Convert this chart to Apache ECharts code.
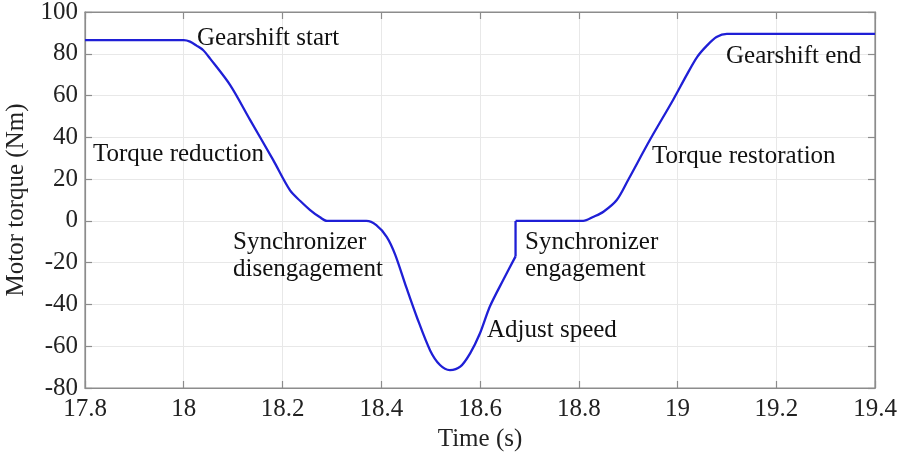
<!DOCTYPE html>
<html><head><meta charset="utf-8">
<script src="https://cdn.jsdelivr.net/npm/echarts@6/dist/echarts.min.js"></script>
<style>html,body{margin:0;padding:0;background:#fff}#c{width:900px;height:456px}</style>
</head><body><div id="c"></div>
<script>
var timeS = [17.8, 18.0, 18.0127, 18.026, 18.039, 18.053, 18.094, 18.134, 18.181, 18.215, 18.236, 18.256, 18.276, 18.29, 18.37, 18.39, 18.411, 18.428, 18.451, 18.472, 18.499, 18.519, 18.539, 18.56, 18.58, 18.6, 18.62, 18.647, 18.672, 18.672, 18.809, 18.83, 18.85, 18.877, 18.9, 18.944, 18.991, 19.019, 19.04, 19.06, 19.079, 19.1, 19.4];
var torqueNm = [86.5, 86.5, 85.8, 83.9, 81.8, 77.8, 65, 48.5, 29.2, 14.7, 9.5, 5.2, 1.7, 0, 0, -2, -7.6, -16, -32, -46, -62, -69, -71.4, -69.8, -63.4, -53.8, -41, -28.3, -17, 0, 0, 2, 4.4, 10, 19.6, 38.7, 57.9, 70, 78.5, 84, 88, 89.5, 89.5];
var xTicks = [17.8, 18, 18.2, 18.4, 18.6, 18.8, 19, 19.2, 19.4];
var yTicks = [-80, -60, -40, -20, 0, 20, 40, 60, 80, 100];
var annotations = [
  {text: 'Gearshift start', left: 197, top: 26},
  {text: 'Torque reduction', left: 93, top: 142},
  {text: 'Synchronizer', left: 233, top: 230},
  {text: 'disengagement', left: 233, top: 257},
  {text: 'Adjust speed', left: 487, top: 318},
  {text: 'Synchronizer', left: 525, top: 230},
  {text: 'engagement', left: 525, top: 257},
  {text: 'Torque restoration', left: 652, top: 144},
  {text: 'Gearshift end', left: 726, top: 44}
];
var FONT = '"Liberation Serif", "DejaVu Serif", serif';
var FS = 25;
var chart = echarts.init(document.getElementById('c'), null, {renderer: 'canvas'});
var pts = timeS.map(function (t, i) { return [t, torqueNm[i]]; });
// find the synchronizer-engagement step (repeated time value)
var j = 0;
for (var i = 1; i < timeS.length; i++) { if (timeS[i] === timeS[i - 1]) { j = i - 1; break; } }
var lineStyle = {color: '#1f1fd6', width: 2.3};
var axisLineStyle = {color: '#8c8c8c', width: 1.2};
var gridLine = {show: true, lineStyle: {color: '#e8e8e8', width: 1}};
function seg(data, smooth) {
  return {type: 'line', data: data, showSymbol: false, smooth: smooth,
    lineStyle: lineStyle, z: 5, silent: true};
}
chart.setOption({
  animation: false,
  backgroundColor: '#fff',
  grid: {left: 85, right: 25, top: 12, bottom: 68, containLabel: false, outerBoundsMode: 'none',
    show: true, borderColor: '#8c8c8c', borderWidth: 1.2},
  xAxis: [{
    type: 'value', min: 17.8, max: 19.4, interval: 0.2,
    name: 'Time (s)', nameLocation: 'middle', nameGap: 38,
    nameTextStyle: {fontFamily: FONT, fontSize: FS, color: '#222'},
    axisLine: {show: true, onZero: false, lineStyle: axisLineStyle},
    axisTick: {show: true, inside: true, length: 7, lineStyle: axisLineStyle},
    splitLine: gridLine,
    axisLabel: {fontFamily: FONT, fontSize: FS, color: '#222', margin: 9,
      formatter: function (v) { var r = Math.round(v * 10) / 10; return xTicks.indexOf(r) >= 0 ? String(r) : ''; }}
  }, {
    type: 'value', min: 17.8, max: 19.4, interval: 0.2, position: 'top',
    axisLine: {show: true, onZero: false, lineStyle: axisLineStyle},
    axisTick: {show: true, inside: true, length: 7, lineStyle: axisLineStyle},
    axisLabel: {show: false}, splitLine: {show: false}
  }],
  yAxis: [{
    type: 'value', min: -80, max: 100, interval: 20,
    name: 'Motor torque (Nm)', nameLocation: 'middle', nameGap: 56,
    nameTextStyle: {fontFamily: FONT, fontSize: FS, color: '#222'},
    axisLine: {show: true, onZero: false, lineStyle: axisLineStyle},
    axisTick: {show: true, inside: true, length: 7, lineStyle: axisLineStyle},
    splitLine: gridLine,
    axisLabel: {fontFamily: FONT, fontSize: FS, color: '#222', margin: 7,
      formatter: function (v) { return yTicks.indexOf(v) >= 0 ? String(v) : ''; }}
  }, {
    type: 'value', min: -80, max: 100, interval: 20, position: 'right',
    axisLine: {show: true, onZero: false, lineStyle: axisLineStyle},
    axisTick: {show: true, inside: true, length: 7, lineStyle: axisLineStyle},
    axisLabel: {show: false}, splitLine: {show: false}
  }],
  series: [
    seg(pts.slice(0, j + 1), 0.3),
    seg(pts.slice(j, j + 2), false),
    seg(pts.slice(j + 1), 0.3)
  ],
  graphic: annotations.map(function (a) {
    return {type: 'text', left: a.left, top: a.top, z: 10,
      style: {text: a.text, fontFamily: FONT, fontSize: FS, fill: '#111'}};
  })
});
</script></body></html>
